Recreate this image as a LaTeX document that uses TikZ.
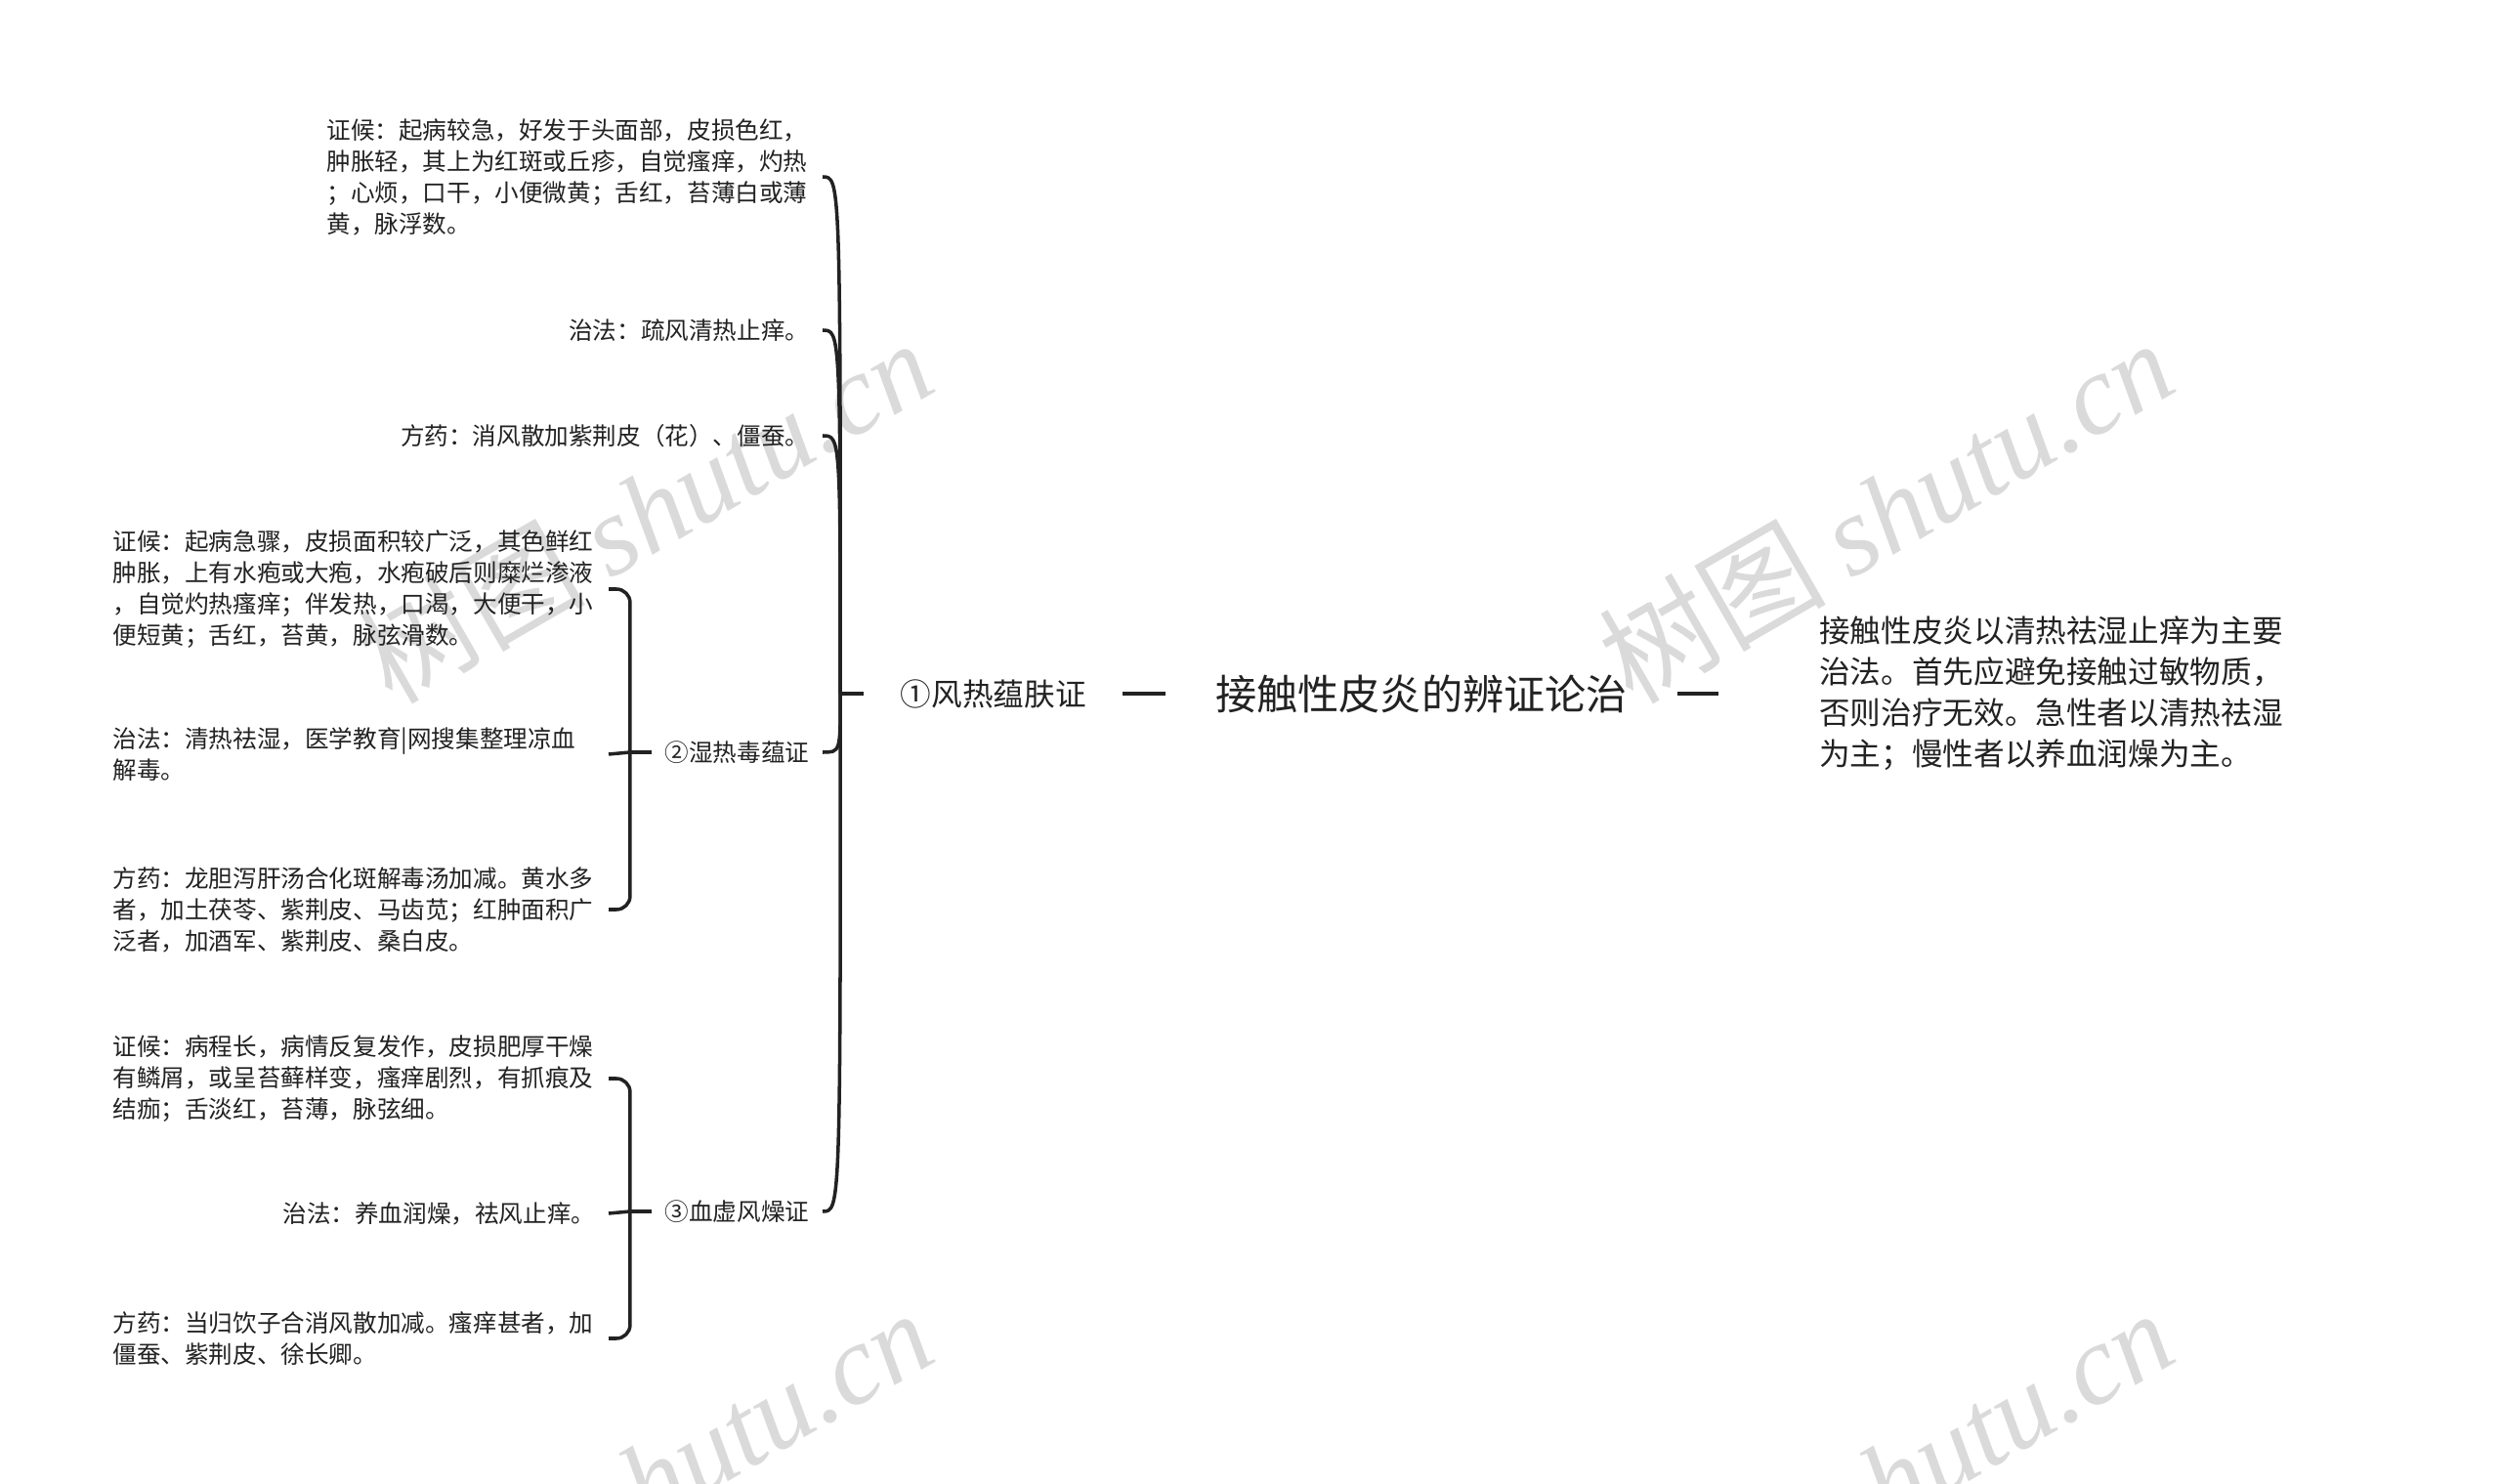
\documentclass[tikz,border=0pt]{standalone}
\usepackage{fontspec}
\setmainfont{Noto Sans CJK SC}
\newfontfamily\latinmark{Liberation Serif}
\usetikzlibrary{positioning}
\definecolor{mapInk}{RGB}{34,34,34}
\definecolor{markGray}{RGB}{218,218,218}

\begin{document}
\begin{tikzpicture}[color=mapInk,
      edge/.style={draw=mapInk,line width=1pt},
      brace/.style={edge,rounded corners=4pt},
      root/.style={font=\fontsize{12}{14}\selectfont,inner xsep=5mm},
      topic/.style={font=\fontsize{9}{12}\selectfont,inner xsep=3.7mm},
      sub/.style={font=\fontsize{7}{9}\selectfont,inner xsep=1.3mm,anchor=east},
      leaf/.style={font=\fontsize{7}{9.1}\selectfont,align=left,inner xsep=1.3mm,anchor=east},
      para/.style={leaf,text width=140.5pt},
      note/.style={font=\fontsize{9}{11.95}\selectfont,align=left,inner xsep=10.3mm},
      wmark/.style={font=\fontsize{33}{33}\selectfont,text=markGray,rotate=30}]
    \useasboundingbox (0,0) rectangle (25.6,-15.19);

    % watermark
    \foreach \x/\y [count=\i] in {6.6/-5.22,19.3/-5.22,6.6/-15.15,19.3/-15.15}
      \node[wmark] (wm\i) at (\x,\y) {树图 {\latinmark\itshape shutu.cn}};

    \node[root] (root) at (14.55,-7.10) {接触性皮炎的辨证论治};
    \node[topic,left=4.4mm of root] (t1) {①风热蕴肤证};
    \node[note,right=4.2mm of root] (sum) {接触性皮炎以清热祛湿止痒为主要\\治法。首先应避免接触过敏物质，\\否则治疗无效。急性者以清热祛湿\\为主；慢性者以养血润燥为主。};
    \draw[edge] (root.west) -- (t1.east);
    \draw[edge] (root.east) -- (sum.west);

    % first branch
    \coordinate (j1) at ([xshift=-2.4mm]t1.west);
    \node[para] (a1) at (8.42,-1.81) {证候：起病较急，好发于头面部，皮损色红，\\肿胀轻，其上为红斑或丘疹，自觉瘙痒，灼热\\；心烦，口干，小便微黄；舌红，苔薄白或薄\\黄，脉浮数。};
    \node[leaf] (a2) at (8.42,-3.38) {治法：疏风清热止痒。};
    \node[leaf] (a3) at (8.42,-4.46) {方药：消风散加紫荆皮（花）、僵蚕。};
    \node[sub] (t2) at (8.42,-7.70) {②湿热毒蕴证};
    \node[sub] (t3) at (8.42,-12.40) {③血虚风燥证};
    \draw[edge] (j1) -- (t1.west);
    \foreach \n in {a1,a2,a3,t2,t3}
      \draw[edge] (j1) .. controls (j1 |- \n.east) .. (\n.east);

    % second branch
    \coordinate (j2) at ([xshift=-2.2mm]t2.west);
    \node[para] (b1) at (6.23,-6.03) {证候：起病急骤，皮损面积较广泛，其色鲜红\\肿胀，上有水疱或大疱，水疱破后则糜烂渗液\\，自觉灼热瘙痒；伴发热，口渴，大便干，小\\便短黄；舌红，苔黄，脉弦滑数。};
    \node[para] (b2) at (6.23,-7.72) {治法：清热祛湿，医学教育|网搜集整理凉血\\解毒。};
    \node[para] (b3) at (6.23,-9.31) {方药：龙胆泻肝汤合化斑解毒汤加减。黄水多\\者，加土茯苓、紫荆皮、马齿苋；红肿面积广\\泛者，加酒军、紫荆皮、桑白皮。};
    \draw[edge] (t2.west) -- (j2) -- (b2.east);
    \foreach \n in {b1,b3}
      \draw[brace] (j2) |- (\n.east);

    % third branch
    \coordinate (j3) at ([xshift=-2.2mm]t3.west);
    \node[para] (c1) at (6.23,-11.04) {证候：病程长，病情反复发作，皮损肥厚干燥\\有鳞屑，或呈苔藓样变，瘙痒剧烈，有抓痕及\\结痂；舌淡红，苔薄，脉弦细。};
    \node[leaf] (c2) at (6.23,-12.42) {治法：养血润燥，祛风止痒。};
    \node[para] (c3) at (6.23,-13.70) {方药：当归饮子合消风散加减。瘙痒甚者，加\\僵蚕、紫荆皮、徐长卿。};
    \draw[edge] (t3.west) -- (j3) -- (c2.east);
    \foreach \n in {c1,c3}
      \draw[brace] (j3) |- (\n.east);
  \end{tikzpicture}
\end{document}
